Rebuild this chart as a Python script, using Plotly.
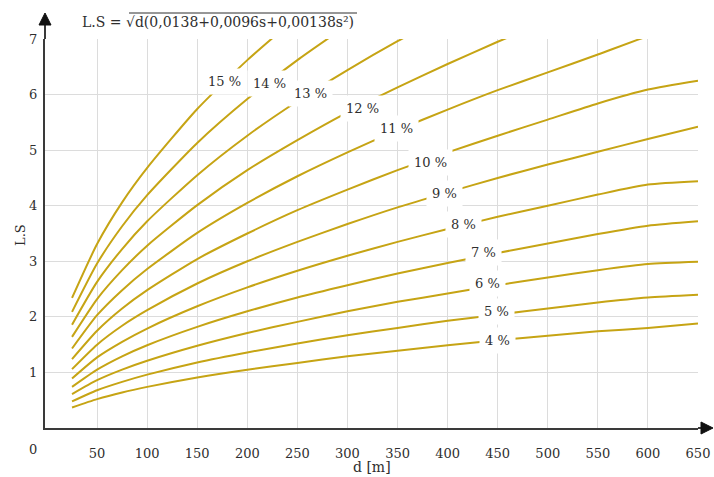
import plotly.graph_objects as go
import numpy as np

# ---- data ----
d = [25, 50, 75, 100, 150, 200, 250, 300, 350, 400, 450, 500, 550, 600, 650]
slopes = [4, 5, 6, 7, 8, 9, 10, 11, 12, 13, 14, 15]

ls_4 = [0.37, 0.52, 0.64, 0.74, 0.91, 1.05, 1.17, 1.29, 1.39, 1.49, 1.58, 1.66, 1.74, 1.80, 1.88]
ls_5 = [0.48, 0.68, 0.83, 0.96, 1.18, 1.36, 1.52, 1.67, 1.80, 1.93, 2.04, 2.15, 2.26, 2.35, 2.40]
ls_6 = [0.61, 0.86, 1.05, 1.21, 1.48, 1.71, 1.91, 2.10, 2.27, 2.42, 2.57, 2.71, 2.84, 2.95, 2.99]
ls_7 = [0.74, 1.05, 1.29, 1.49, 1.82, 2.10, 2.35, 2.57, 2.78, 2.97, 3.15, 3.32, 3.49, 3.64, 3.72]
ls_8 = [0.89, 1.27, 1.55, 1.79, 2.19, 2.53, 2.83, 3.10, 3.35, 3.58, 3.80, 4.00, 4.20, 4.38, 4.44]
ls_9 = [1.06, 1.50, 1.84, 2.12, 2.60, 3.00, 3.35, 3.67, 3.97, 4.24, 4.50, 4.74, 4.97, 5.20, 5.42]
ls_10 = [1.24, 1.75, 2.15, 2.48, 3.04, 3.50, 3.92, 4.29, 4.64, 4.96, 5.26, 5.55, 5.84, 6.09, 6.25]
ls_11 = [1.43, 2.03, 2.48, 2.86, 3.51, 4.05, 4.53, 4.96, 5.36, 5.73, 6.08, 6.40, 6.72, 7.05, 7.30]
ls_12 = [1.64, 2.32, 2.84, 3.28, 4.01, 4.64, 5.18, 5.68, 6.13, 6.55, 6.95, 7.33]
ls_13 = [1.86, 2.63, 3.22, 3.72, 4.55, 5.26, 5.88, 6.44, 6.96, 7.44]
ls_14 = [2.09, 2.96, 3.63, 4.19, 5.13, 5.92, 6.62, 7.25]
ls_15 = [2.34, 3.31, 4.06, 4.68, 5.74, 6.62, 7.40]

series = [ls_4, ls_5, ls_6, ls_7, ls_8, ls_9, ls_10, ls_11, ls_12, ls_13, ls_14, ls_15]

# where along each curve (d) its label sits
label_d = [450, 449, 440, 436, 416, 397, 383, 349, 315, 263, 222, 177]

x_ticks = [50, 100, 150, 200, 250, 300, 350, 400, 450, 500, 550, 600, 650]
y_ticks = [1, 2, 3, 4, 5, 6, 7]

title_text = "L.S = √d(0,0138+0,0096s+0,00138s²)"

# ---- styling ----
W, H = 714, 477
ML, MR, MT, MB = 45, 16, 39, 49
PW, PH = W - ML - MR, H - MT - MB
LINE_COL = "#c6a414"
TXT = "#2e2e2e"
AX = "#3a3a3a"
FONT = "DejaVu Serif"
# small vertical nudges of the slope labels (pixels)
label_shift = [0, 3, 3, 3, 1, 0, -4, 2, -4, 0, -2, 1]


def px(xp):
    return (xp - ML) / PW


def py(yp):
    return (H - MB - yp) / PH


fig = go.Figure()
for s, vals in zip(slopes, series):
    fig.add_trace(go.Scatter(
        x=d[:len(vals)], y=vals, mode="lines",
        line=dict(color=LINE_COL, width=2, shape="spline", smoothing=0.6),
        hoverinfo="skip", showlegend=False,
    ))

annotations = []
for s, vals, ld, sh in zip(slopes, series, label_d, label_shift):
    yv = float(np.interp(ld, d[:len(vals)], vals))
    annotations.append(dict(
        x=ld, y=yv, xref="x", yref="y", text=f"{s} %", showarrow=False,
        font=dict(family=FONT, size=13, color=TXT), bgcolor="white",
        borderpad=5, yshift=sh,
    ))

annotations += [
    dict(x=px(80), y=py(22), xref="paper", yref="paper", text=title_text,
         showarrow=False, xanchor="left", yanchor="middle",
         font=dict(family=FONT, size=14, color=TXT)),
    dict(x=px(372), y=py(467), xref="paper", yref="paper", text="d [m]",
         showarrow=False, xanchor="center", yanchor="middle",
         font=dict(family=FONT, size=14, color=TXT)),
    dict(x=px(20), y=py(235), xref="paper", yref="paper", text="L.S",
         showarrow=False, textangle=-90, xanchor="center", yanchor="middle",
         font=dict(family=FONT, size=13, color=TXT)),
    dict(x=px(33), y=py(450), xref="paper", yref="paper", text="0",
         showarrow=False, xanchor="center", yanchor="middle",
         font=dict(family=FONT, size=13, color=TXT)),
]

shapes = [
    # overline of the square root in the formula
    dict(type="line", xref="paper", yref="paper", x0=px(129), x1=px(357),
         y0=py(13), y1=py(13), line=dict(color=TXT, width=1)),
    # y-axis extension and arrow head
    dict(type="line", xref="paper", yref="paper", x0=0, x1=0, y0=1, y1=py(22),
         line=dict(color=AX, width=2)),
    dict(type="path", xref="paper", yref="paper", xsizemode="pixel", ysizemode="pixel",
         xanchor=0, yanchor=py(13), path="M -6,-12 L 0,0 L 6,-12 Z",
         fillcolor="#111111", line=dict(color="#111111", width=1)),
    # x-axis extension and arrow head
    dict(type="line", xref="paper", yref="paper", x0=1, x1=px(703), y0=0, y1=0,
         line=dict(color=AX, width=2)),
    dict(type="path", xref="paper", yref="paper", xsizemode="pixel", ysizemode="pixel",
         xanchor=px(713), yanchor=0, path="M -12,-6 L 0,0 L -12,6 Z",
         fillcolor="#111111", line=dict(color="#111111", width=1)),
]

fig.update_layout(
    width=W, height=H, autosize=False,
    margin=dict(l=ML, r=MR, t=MT, b=MB, autoexpand=False),
    paper_bgcolor="white", plot_bgcolor="white",
    font=dict(family=FONT, size=13, color=TXT),
    annotations=annotations, shapes=shapes,
    xaxis=dict(range=[-2, 650], tickvals=x_ticks, ticktext=[str(v) for v in x_ticks],
               showgrid=True, gridcolor="#dcdcdc", gridwidth=1,
               showline=True, linecolor=AX, linewidth=2, zeroline=False,
               ticks="", ticklabelstandoff=12, automargin=False,
               tickfont=dict(family=FONT, size=13, color=TXT), fixedrange=True),
    yaxis=dict(range=[0, 7], tickvals=y_ticks, ticktext=[str(v) for v in y_ticks],
               showgrid=True, gridcolor="#dcdcdc", gridwidth=1,
               showline=True, linecolor=AX, linewidth=2, zeroline=False,
               ticks="", ticklabelstandoff=3, automargin=False,
               tickfont=dict(family=FONT, size=13, color=TXT), fixedrange=True),
)

fig.write_html("out.html",
               config={"displayModeBar": False, "responsive": False},
               post_script="document.body.style.margin='0';")
